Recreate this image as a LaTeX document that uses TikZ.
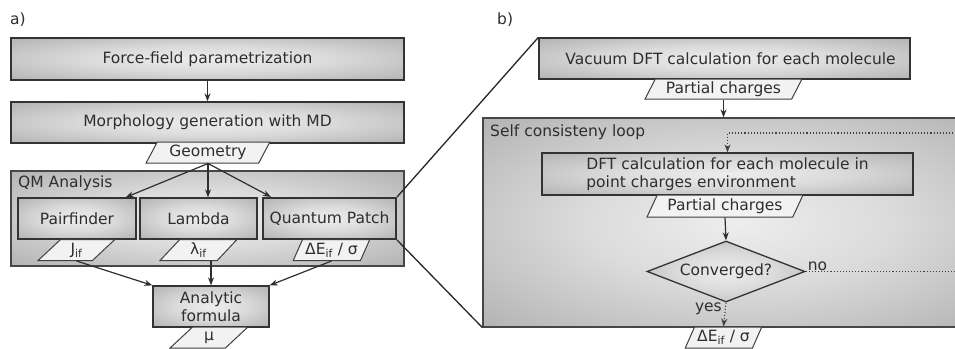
\documentclass[tikz,border=0pt]{standalone}
\usepackage{fontspec}
\setmainfont{DejaVu Sans}
\usetikzlibrary{shapes.geometric,arrows.meta}

% soft grey fill, light in the middle and darker towards the edges
\pgfdeclareradialshading{boxshade}{\pgfpoint{0bp}{0bp}}{%
  color(0bp)=(gray!14); color(15bp)=(gray!28); color(50bp)=(gray!82); color(72bp)=(gray!98)}

\begin{document}
\begin{tikzpicture}[x=1pt,y=-1pt,
  font=\fontsize{15.5}{18.5}\selectfont,
  every node/.style={text=black!82},
  box/.style={rectangle, draw=black!80, line width=1.3pt, shading=boxshade,
    inner sep=0pt, align=center},
  group/.style={rectangle, draw=black!72, line width=1.2pt, shading=boxshade, inner sep=0pt},
  data/.style={trapezium, trapezium left angle=60, trapezium right angle=120,
    trapezium stretches=true, draw=black!75, line width=1pt, fill=gray!10,
    inner sep=0pt, minimum height=21pt},
  decision/.style={diamond, aspect=2.6, draw=black!80, line width=1.3pt, shading=boxshade, inner sep=0pt},
  arr/.style={draw=black!82, line width=1.2pt, -{Stealth[length=8pt,width=6pt]}},
  dotline/.style={draw=black!75, line width=1.1pt, dotted},
  zoomline/.style={draw=black!85, line width=1.3pt},
  tag/.style={inner sep=0pt, anchor=west}
]
\path[use as bounding box] (0,0) rectangle (955,348);
\clip (0,0) rectangle (955,348);

% ---------------- a) overall workflow ----------------
\node[tag] (la) at (10,20) {a)};
\node[box, minimum width=393pt, minimum height=42pt] (ff) at (207.5,59) {Force-field parametrization};
\node[box, minimum width=393pt, minimum height=41pt] (morph) at (207.5,122.5) {Morphology generation with MD};
\node[group, minimum width=393pt, minimum height=95pt] (qm) at (207.5,218.5) {};
\node[tag] (qmlabel) at (18,183) {QM Analysis};
\node[data, minimum width=124pt] (geom) at (208,152.5) {Geometry};

\node[box, minimum width=118pt, minimum height=41pt] (pair) at (77,218.5) {Pairfinder};
\node[box, minimum width=117pt, minimum height=41pt] (lam) at (198.5,218.5) {Lambda};
\node[box, minimum width=133pt, minimum height=41pt, line width=2.2pt] (qp) at (329.5,218.5) {Quantum Patch};

\node[data, minimum width=77pt] (jif) at (76.5,250) {J\textsubscript{if}};
\node[data, minimum width=77pt] (lif) at (198.5,250) {λ\textsubscript{if}};
\node[data, minimum width=77pt] (dif) at (331.5,250) {ΔE\textsubscript{if} / σ};

\node[box, minimum width=116pt, minimum height=41pt] (an) at (211,306.5) {Analytic\\formula};
\node[data, minimum width=78pt] (mu) at (209,337.5) {μ};

\draw[arr] (ff) -- (morph);
\draw[arr] (geom.south) -- ([xshift=-11pt]pair.north east);
\draw[arr] (geom.south) -- (geom.south |- lam.north);
\draw[arr] (geom.south) -- ([xshift=9pt]qp.north west);
\draw[arr] (jif.south) -- (an.north west);
\draw[arr] (an.north |- lif.south) -- (an.north);
\draw[arr] (dif.south) -- (an.north east);

% ---------------- b) Quantum Patch in detail ----------------
\node[tag] (lb) at (497,20) {b)};
\node[box, minimum width=371pt, minimum height=41pt] (vac) at (724.5,58.5) {\hspace*{12pt}Vacuum DFT calculation for each molecule};
\node[data, minimum width=157pt, minimum height=20pt] (pc1) at (723.5,89) {Partial charges};

\node[group, minimum width=510pt, minimum height=209pt] (scl) at (738,222.5) {};
\node[tag] (scllabel) at (490,132) {Self consisteny loop};

\node[box, minimum width=371pt, minimum height=42pt, align=left] (dft) at (727.5,174)
  {DFT calculation for each molecule in\\point charges environment};
\node[data, minimum width=156pt, minimum height=22pt] (pc2) at (725,206) {Partial charges};
\node[decision, minimum width=158pt, minimum height=61pt] (conv) at (726,271.5) {Converged?};
\node[data, minimum width=77pt] (dout) at (723.5,337.5) {ΔE\textsubscript{if} / σ};

\coordinate (ret) at (990,133);
\draw[arr] (pc1.south) -- (pc1.south |- scl.north);
\draw[arr] (pc2.south) -- (conv.north);
\draw[dotline, -{Stealth[length=8pt,width=6pt]}] (conv.east) -- (conv.east -| ret) -- (ret) -| (dft.north);
\node[inner sep=2pt, anchor=south west] (no) at ([yshift=-1pt]conv.east) {no};
\draw[dotline, -{Stealth[length=8pt,width=6pt]}] (conv.south) -- (dout.north);
\node[inner sep=1pt, anchor=north east] (yes) at ([xshift=-3pt,yshift=1pt]conv.south) {yes};

% magnification lines from Quantum Patch to its detail view
\draw[zoomline] (qp.north east) -- (vac.north west);
\draw[zoomline] (qp.south east) -- (scl.south west);
\end{tikzpicture}
\end{document}
